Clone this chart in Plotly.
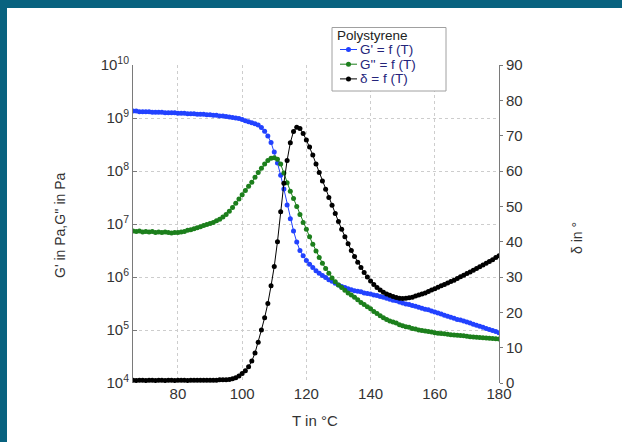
import plotly.graph_objects as go

# ---------------- data ----------------
temperature_c = list(range(66, 181))  # measurement temperatures, 1 °C steps

g_storage_log10 = [
    9.13, 9.13, 9.12, 9.12, 9.12, 9.12, 9.11, 9.11, 9.11, 9.11,
    9.10, 9.10, 9.10, 9.10, 9.09, 9.09, 9.09, 9.08, 9.08, 9.08,
    9.07, 9.07, 9.07, 9.06, 9.06, 9.05, 9.05, 9.04, 9.04, 9.03,
    9.02, 9.01, 9.00, 8.99, 8.97, 8.95, 8.93, 8.91, 8.89, 8.87,
    8.82, 8.75, 8.66, 8.54, 8.36, 8.15, 7.92, 7.66, 7.36, 7.10,
    6.87, 6.66, 6.50, 6.40, 6.31, 6.24, 6.18, 6.12, 6.07, 6.03,
    5.99, 5.95, 5.92, 5.88, 5.85, 5.82, 5.80, 5.78, 5.76, 5.74,
    5.73, 5.72, 5.70, 5.69, 5.68, 5.66, 5.65, 5.63, 5.62, 5.60,
    5.58, 5.56, 5.55, 5.53, 5.51, 5.49, 5.48, 5.46, 5.45, 5.43,
    5.41, 5.39, 5.38, 5.36, 5.34, 5.32, 5.30, 5.28, 5.26, 5.24,
    5.22, 5.20, 5.19, 5.17, 5.15, 5.13, 5.11, 5.09, 5.07, 5.05,
    5.03, 5.01, 4.99, 4.97, 4.95,
]

g_loss_log10 = [
    6.87, 6.86, 6.87, 6.85, 6.86, 6.85, 6.86, 6.84, 6.85, 6.84,
    6.85, 6.84, 6.83, 6.84, 6.84, 6.85, 6.86, 6.88, 6.89, 6.91,
    6.93, 6.95, 6.97, 6.99, 7.01, 7.03, 7.06, 7.09, 7.13, 7.18,
    7.24, 7.31, 7.39, 7.47, 7.55, 7.63, 7.71, 7.79, 7.88, 7.97,
    8.05, 8.13, 8.20, 8.24, 8.25, 8.22, 8.13, 7.96, 7.78, 7.62,
    7.48, 7.33, 7.18, 7.03, 6.90, 6.76, 6.62, 6.49, 6.37, 6.26,
    6.16, 6.07, 5.98, 5.91, 5.85, 5.80, 5.75, 5.70, 5.66, 5.62,
    5.57, 5.52, 5.48, 5.44, 5.40, 5.35, 5.31, 5.27, 5.23, 5.20,
    5.17, 5.15, 5.13, 5.10, 5.08, 5.06, 5.05, 5.03, 5.02, 5.00,
    4.99, 4.98, 4.97, 4.96, 4.95, 4.94, 4.935, 4.93, 4.92, 4.91,
    4.905, 4.90, 4.895, 4.89, 4.88, 4.875, 4.87, 4.865, 4.86, 4.855,
    4.85, 4.845, 4.84, 4.835, 4.83,
]

delta_deg = [
    0.8, 0.7, 0.8, 0.8, 0.7, 0.8, 0.8, 0.7, 0.8, 0.8,
    0.7, 0.8, 0.8, 0.7, 0.8, 0.8, 0.8, 0.7, 0.8, 0.8,
    0.8, 0.8, 0.8, 0.8, 0.8, 0.8, 0.8, 0.9, 0.9, 0.9,
    1.0, 1.2, 1.5, 2.0, 2.7, 3.5, 4.6, 6.2, 8.5, 11.5,
    15.0, 18.5, 22.5, 27.5, 33.0, 40.0, 48.5, 56.5, 63.0, 68.0,
    71.2, 72.4, 72.0, 70.6, 68.8, 66.8, 64.5, 62.0, 59.6, 57.2,
    54.8, 52.5, 50.3, 48.0, 45.7, 43.5, 41.4, 39.4, 37.5, 35.8,
    34.2, 32.7, 31.3, 30.0, 28.9, 27.9, 27.0, 26.3, 25.7, 25.2,
    24.8, 24.5, 24.2, 24.0, 23.9, 24.0, 24.1, 24.3, 24.6, 24.9,
    25.2, 25.5, 25.9, 26.3, 26.7, 27.1, 27.5, 27.9, 28.3, 28.7,
    29.1, 29.6, 30.1, 30.5, 31.0, 31.4, 31.9, 32.4, 32.9, 33.4,
    33.9, 34.4, 34.9, 35.5, 36.0,
]

x_ticks = [80, 100, 120, 140, 160, 180]
left_tick_exponents = [4, 5, 6, 7, 8, 9, 10]
right_ticks = [0, 10, 20, 30, 40, 50, 60, 70, 80, 90]

legend_title = "Polystyrene"
legend_labels = ["G' = f (T)", "G'' = f (T)", "δ = f (T)"]

# ---------------- styling ----------------
FONT = "Liberation Sans, Arial, sans-serif"
BLUE = "#2242ff"
GREEN = "#1c7f1c"
BLACK = "#000000"
TEAL = "#08627f"
TXT = "#333333"

W, H = 622, 442
L, R, T, B = 133, 123, 65, 59
PW, PH = W - L - R, H - T - B


def px(xp):
    return (xp - L) / PW


def py(yp):
    return (H - B - yp) / PH


g_storage = [10 ** v for v in g_storage_log10]
g_loss = [10 ** v for v in g_loss_log10]

fig = go.Figure()
fig.add_trace(go.Scatter(
    x=temperature_c, y=g_storage, mode="lines+markers", name=legend_labels[0],
    line=dict(color=BLUE, width=1), marker=dict(color=BLUE, size=5),
    yaxis="y", showlegend=False))
fig.add_trace(go.Scatter(
    x=temperature_c, y=g_loss, mode="lines+markers", name=legend_labels[1],
    line=dict(color=GREEN, width=1), marker=dict(color=GREEN, size=5),
    yaxis="y", showlegend=False))
fig.add_trace(go.Scatter(
    x=temperature_c, y=delta_deg, mode="lines+markers", name=legend_labels[2],
    line=dict(color=BLACK, width=1), marker=dict(color=BLACK, size=5),
    yaxis="y2", showlegend=False))

shapes = [
    # teal frame bands
    dict(type="rect", xref="paper", yref="paper", x0=px(0), x1=px(W), y0=py(8), y1=py(0),
         fillcolor=TEAL, line=dict(width=0), layer="above"),
    dict(type="rect", xref="paper", yref="paper", x0=px(0), x1=px(7), y0=py(H), y1=py(0),
         fillcolor=TEAL, line=dict(width=0), layer="above"),
    # legend box
    dict(type="rect", xref="paper", yref="paper", x0=px(332), x1=px(446), y0=py(91), y1=py(27.5),
         fillcolor="white", line=dict(color="#a0a0a0", width=1), layer="above"),
]
annotations = [
    dict(text=legend_title, xref="paper", yref="paper", x=px(336), y=py(35),
         xanchor="left", yanchor="middle", showarrow=False, borderpad=0,
         font=dict(family=FONT, size=13.5, color="#222222")),
]
row_y = [49.5, 64.2, 78.9]
for lab, col, yy in zip(legend_labels, [BLUE, GREEN, BLACK], row_y):
    shapes.append(dict(type="line", xref="paper", yref="paper", x0=px(340), x1=px(357),
                       y0=py(yy), y1=py(yy), line=dict(color=col, width=1), layer="above"))
    shapes.append(dict(type="circle", xref="paper", yref="paper", x0=px(346), x1=px(351),
                       y0=py(yy + 2.5), y1=py(yy - 2.5), fillcolor=col,
                       line=dict(color=col, width=0), layer="above"))
    annotations.append(dict(text=lab, xref="paper", yref="paper", x=px(359), y=py(yy),
                            xanchor="left", yanchor="middle", showarrow=False, borderpad=0,
                            font=dict(family=FONT, size=13.5, color="#24247a")))

# axis titles
annotations += [
    dict(text="G' in Pa,G'' in Pa", xref="paper", yref="paper", x=px(60), y=py(225),
         textangle=-90, showarrow=False, xanchor="center", yanchor="middle",
         font=dict(family=FONT, size=14, color=TXT)),
    dict(text="δ in °", xref="paper", yref="paper", x=px(577), y=py(238),
         textangle=-90, showarrow=False, xanchor="center", yanchor="middle",
         font=dict(family=FONT, size=14, color=TXT)),
    dict(text="T in °C", xref="paper", yref="paper", x=px(315), y=py(420),
         showarrow=False, xanchor="center", yanchor="middle",
         font=dict(family=FONT, size=15, color=TXT)),
]

fig.update_layout(
    width=W, height=H,
    margin=dict(l=L, r=R, t=T, b=B, pad=0),
    paper_bgcolor="white", plot_bgcolor="white",
    font=dict(family=FONT, size=14, color=TXT),
    showlegend=False,
    shapes=shapes, annotations=annotations,
    xaxis=dict(range=[66, 180], tickmode="array", tickvals=x_ticks,
               ticktext=[str(v) for v in x_ticks],
               showgrid=True, gridcolor="#cdcdcd", griddash="dot", gridwidth=1,
               showline=False, zeroline=False, ticks="",
               tickfont=dict(family=FONT, size=15, color=TXT)),
    yaxis=dict(type="log", range=[4, 10], tickmode="array",
               tickvals=[10 ** e for e in left_tick_exponents],
               ticktext=["10<sup>%d</sup>" % e for e in left_tick_exponents],
               showgrid=True, gridcolor="#cdcdcd", griddash="dot", gridwidth=1,
               showline=True, linecolor="#7a7a7a", linewidth=1, zeroline=False,
               ticks="inside", ticklen=4, tickcolor="#7a7a7a",
               tickfont=dict(family=FONT, size=15, color=TXT)),
    yaxis2=dict(range=[0, 90], overlaying="y", side="right", tickmode="array",
                tickvals=right_ticks, ticktext=[str(v) for v in right_ticks],
                showgrid=False, zeroline=False,
                showline=True, linecolor="#7a7a7a", linewidth=1,
                ticks="outside", ticklen=3, tickcolor="#7a7a7a",
                tickfont=dict(family=FONT, size=15, color=TXT)),
)

fig.write_html(
    "out.html",
    config={"displayModeBar": False},
    post_script="document.body.style.margin='0';document.body.style.overflow='hidden';",
)
